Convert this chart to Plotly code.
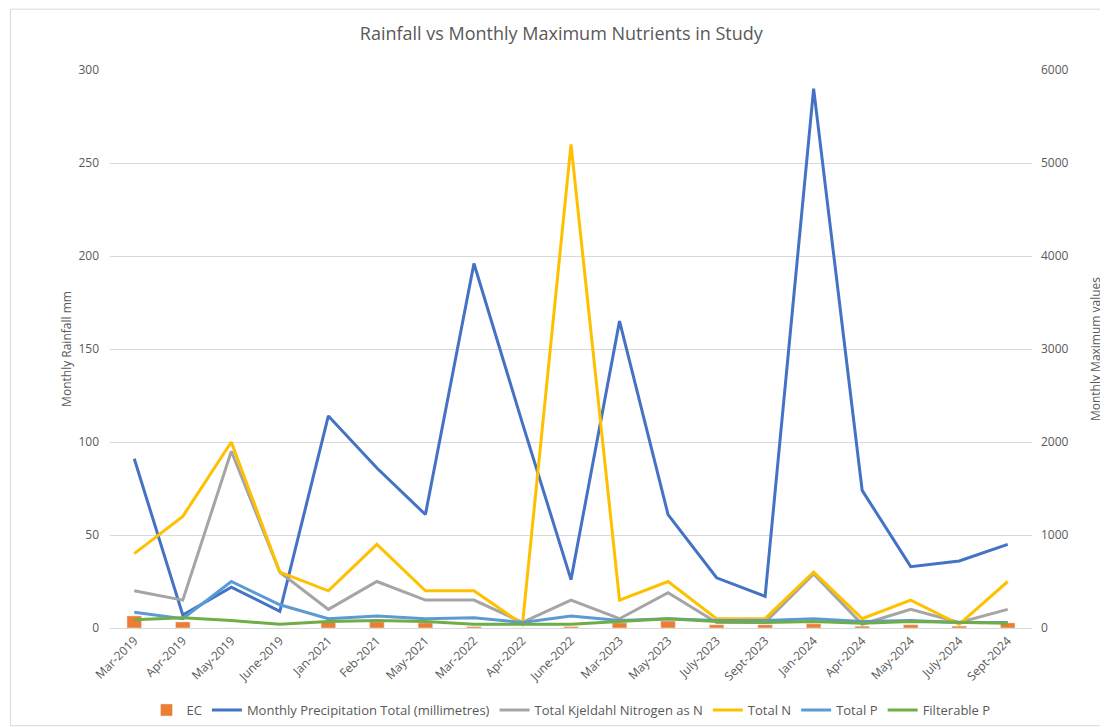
import plotly.graph_objects as go

categories = ["Mar-2019", "Apr-2019", "May-2019", "June-2019", "Jan-2021", "Feb-2021",
              "May-2021", "Mar-2022", "Apr-2022", "June-2022", "Mar-2023", "May-2023",
              "July-2023", "Sept-2023", "Jan-2024", "Apr-2024", "May-2024", "July-2024",
              "Sept-2024"]

rainfall_mm = [91, 7, 22, 9, 114, 86, 61, 196, 110, 26, 165, 61, 27, 17, 290, 74, 33, 36, 45]
ec = [130, 65, 0, 0, 60, 65, 55, 15, 0, 15, 55, 75, 35, 35, 45, 20, 35, 20, 55]
tkn = [400, 300, 1900, 600, 200, 500, 300, 300, 60, 300, 100, 380, 60, 60, 580, 40, 200, 60, 200]
total_n = [800, 1200, 2000, 600, 400, 900, 400, 400, 40, 5200, 300, 500, 100, 100, 600, 100, 300, 40, 500]
total_p = [170, 100, 500, 250, 100, 130, 100, 110, 60, 130, 80, 100, 80, 80, 100, 70, 80, 60, 60]
filterable_p = [90, 110, 80, 40, 70, 80, 70, 40, 40, 40, 70, 100, 70, 60, 70, 50, 70, 60, 50]

left_ticks = [0, 50, 100, 150, 200, 250, 300]
right_ticks = [0, 1000, 2000, 3000, 4000, 5000, 6000]

FONT = "Open Sans"
TXT = "#595959"
GRID = "#D9D9D9"

fig = go.Figure()
fig.add_trace(go.Bar(x=categories, y=ec, name="EC", marker_color="#ED7D31",
                     width=0.3, yaxis="y2"))
fig.add_trace(go.Scatter(x=categories, y=rainfall_mm, name="Monthly Precipitation Total (millimetres)",
                         mode="lines", line=dict(color="#4472C4", width=3), yaxis="y"))
fig.add_trace(go.Scatter(x=categories, y=tkn, name="Total Kjeldahl Nitrogen as N",
                         mode="lines", line=dict(color="#A5A5A5", width=3), yaxis="y2"))
fig.add_trace(go.Scatter(x=categories, y=total_n, name="Total N",
                         mode="lines", line=dict(color="#FFC000", width=3), yaxis="y2"))
fig.add_trace(go.Scatter(x=categories, y=total_p, name="Total P",
                         mode="lines", line=dict(color="#5B9BD5", width=3), yaxis="y2"))
fig.add_trace(go.Scatter(x=categories, y=filterable_p, name="Filterable P",
                         mode="lines", line=dict(color="#70AD47", width=3), yaxis="y2"))

fig.update_layout(
    width=1100, height=719,
    margin=dict(l=102, r=76, t=62, b=99, autoexpand=False),
    paper_bgcolor="white", plot_bgcolor="white",
    font=dict(family=FONT, color=TXT, size=12),
    title=dict(text="Rainfall vs Monthly Maximum Nutrients in Study",
               x=0.503, xanchor="center", y=0.964, yanchor="middle",
               font=dict(size=18, color=TXT, family=FONT)),
    xaxis=dict(type="category", tickangle=-45, showgrid=False, showline=True,
               linecolor=GRID, linewidth=1, ticks="", tickfont=dict(size=12, color=TXT),
               range=[-0.5, len(categories) - 0.5], automargin=False),
    yaxis=dict(title=dict(text="Monthly Rainfall mm", font=dict(size=12, color=TXT), standoff=4),
               range=[0, 300], tickvals=left_ticks, showgrid=True, gridcolor=GRID,
               zeroline=False, tickfont=dict(size=12, color=TXT), automargin=False,
               ticklabelstandoff=10),
    yaxis2=dict(title=dict(text="Monthly Maximum values", font=dict(size=12, color=TXT), standoff=24),
                range=[0, 6000], tickvals=right_ticks, overlaying="y", side="right",
                showgrid=False, zeroline=False, tickfont=dict(size=12, color=TXT), automargin=False,
                ticklabelstandoff=8),
    legend=dict(orientation="h", x=0.50, xanchor="center", y=-0.147, yanchor="middle",
                font=dict(size=13, color=TXT), traceorder="normal"),
    barmode="overlay",
    shapes=[dict(type="rect", xref="paper", yref="paper", x0=-0.108, x1=1.08,
                 y0=-0.175, y1=1.109, line=dict(color="#D9D9D9", width=1), layer="below")],
)

fig.write_html("out.html")
